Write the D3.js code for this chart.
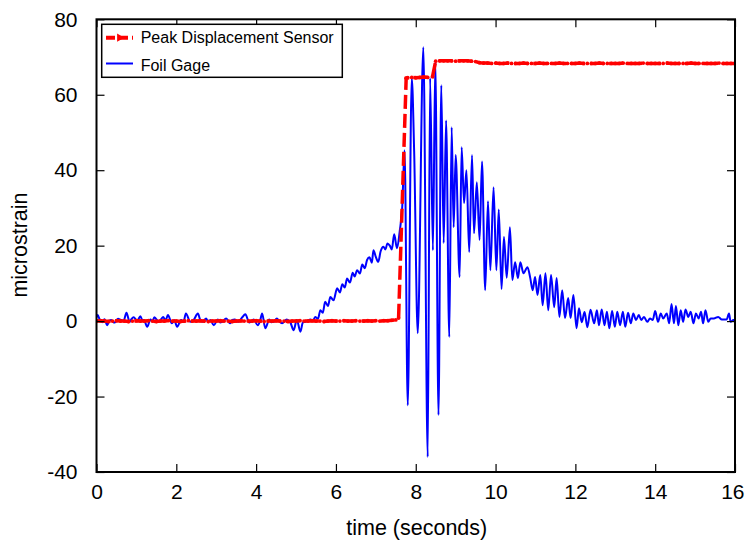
<!DOCTYPE html>
<html>
<head>
<meta charset="utf-8">
<script src="https://cdn.jsdelivr.net/npm/d3@7"></script>
<style>
  html, body { margin: 0; padding: 0; background: #fff; }
  svg { display: block; font-family: "Liberation Sans", Arial, sans-serif; }
</style>
</head>
<body>
<svg id="chart" width="745" height="541"></svg>
<script>
// ---- Data ----
const xTicks = [0, 2, 4, 6, 8, 10, 12, 14, 16];
const yTicks = [-40, -20, 0, 20, 40, 60, 80];
const seriesNames = ["Peak Displacement Sensor", "Foil Gage"];

// Peak Displacement Sensor: sample times (s) and readings (microstrain)
const redTime = [
  0.0,0.1,0.2,0.3,0.4,0.5,0.6,0.7,0.8,0.9,1.0,1.1,1.2,1.3,1.4,1.5,1.6,1.7,1.8,1.9,
  2.0,2.1,2.2,2.3,2.4,2.5,2.6,2.7,2.8,2.9,3.0,3.1,3.2,3.3,3.4,3.5,3.6,3.7,3.8,3.9,
  4.0,4.1,4.2,4.3,4.4,4.5,4.6,4.7,4.8,4.9,5.0,5.1,5.2,5.3,5.4,5.5,5.6,5.7,5.8,5.9,
  6.0,6.1,6.2,6.3,6.4,6.5,6.6,6.7,6.8,6.9,7.0,7.1,7.2,7.3,7.4,7.5,7.57,
  7.76,7.8,7.9,8.0,8.1,8.2,8.3,8.42,
  8.5,8.6,8.7,8.8,8.9,9.0,9.1,9.2,9.3,9.4,9.5,9.6,9.7,9.8,9.9,
  10.0,10.1,10.2,10.3,10.4,10.5,10.6,10.7,10.8,10.9,11.0,11.1,11.2,11.3,11.4,11.5,11.6,11.7,11.8,11.9,
  12.0,12.1,12.2,12.3,12.4,12.5,12.6,12.7,12.8,12.9,13.0,13.1,13.2,13.3,13.4,13.5,13.6,13.7,13.8,13.9,
  14.0,14.1,14.2,14.3,14.4,14.5,14.6,14.7,14.8,14.9,15.0,15.1,15.2,15.3,15.4,15.5,15.6,15.7,15.8,15.9,16.0
];
const redValue = [
  0.0,0.1,0.0,-0.1,0.0,0.1,0.0,0.0,-0.1,0.0,0.1,0.0,0.0,0.1,0.0,-0.1,0.0,0.0,0.1,0.0,
  0.0,-0.1,0.0,0.1,0.0,0.0,0.1,0.0,-0.1,0.0,0.0,0.1,0.0,0.0,-0.1,0.0,0.1,0.0,0.0,0.0,
  0.1,0.0,-0.1,0.0,0.0,0.1,0.0,0.0,-0.1,0.0,0.0,0.1,0.0,0.0,0.1,0.0,0.0,-0.1,0.0,0.1,
  0.0,0.0,0.1,0.0,0.0,0.1,0.0,0.0,0.1,0.0,0.1,0.0,0.1,0.1,0.2,0.3,0.8,
  64.4,64.5,64.6,64.5,64.6,64.7,64.6,64.8,
  68.9,69.0,69.0,69.0,69.0,68.9,69.0,69.0,69.0,68.9,68.8,68.5,68.4,68.4,68.3,
  68.4,68.3,68.3,68.4,68.3,68.3,68.3,68.4,68.3,68.3,68.3,68.4,68.3,68.3,68.3,68.3,68.4,68.3,68.3,68.3,
  68.3,68.4,68.3,68.3,68.3,68.3,68.4,68.3,68.3,68.3,68.3,68.3,68.4,68.3,68.3,68.3,68.3,68.4,68.3,68.3,
  68.3,68.3,68.3,68.4,68.3,68.3,68.3,68.3,68.3,68.4,68.3,68.3,68.3,68.3,68.3,68.3,68.4,68.3,68.3,68.3,68.3
];

// Foil Gage: [time (s), microstrain]
const blueSeries = [
  [0.00,1.0],[0.03,1.6],[0.08,0.4],[0.14,-0.3],[0.20,0.5],[0.27,-1.1],[0.32,0.1],[0.37,0.3],[0.43,-0.4],[0.48,-0.2],
  [0.54,0.6],[0.60,0.4],[0.68,0.1],[0.75,2.2],[0.83,-0.2],[0.88,0.6],[0.93,1.0],[1.02,0.1],[1.10,1.3],[1.15,0.2],
  [1.19,0.3],[1.27,-1.5],[1.35,0.4],[1.40,-0.1],[1.45,1.0],[1.56,-0.2],[1.62,0.5],[1.67,1.1],[1.73,0.2],[1.79,1.6],
  [1.89,-0.6],[1.95,0.2],[2.02,-1.5],[2.12,0.3],[2.18,-0.2],[2.24,2.0],[2.35,-0.2],[2.44,0.4],[2.54,2.0],[2.60,0.3],
  [2.65,-0.2],[2.75,0.7],[2.80,-0.3],[2.85,0.3],[2.94,-1.1],[3.04,0.4],[3.10,-0.4],[3.15,-0.2],[3.25,0.7],[3.35,-0.6],
  [3.40,0.3],[3.46,0.4],[3.56,-0.2],[3.65,1.0],[3.73,1.8],[3.83,-0.4],[3.94,0.4],[4.04,-1.1],[4.10,0.1],[4.15,2.0],
  [4.23,-1.9],[4.33,0.4],[4.38,-0.3],[4.44,-0.2],[4.52,0.7],[4.58,-0.1],[4.65,-0.6],[4.77,0.4],[4.86,-0.4],[4.94,-2.4],
  [5.02,0.3],[5.11,-2.8],[5.17,-0.4],[5.23,-0.2],[5.30,0.2],[5.36,0.4],[5.42,0.0],[5.48,1.1],[5.55,0.6],[5.61,2.9],
  [5.67,2.2],[5.73,5.1],[5.80,4.0],[5.86,6.4],[5.94,5.5],[6.03,8.7],[6.10,7.6],[6.16,9.8],[6.22,8.9],[6.28,11.3],
  [6.35,10.2],[6.42,12.8],[6.47,11.8],[6.53,13.5],[6.60,12.6],[6.66,15.0],[6.72,14.0],[6.78,16.2],[6.84,16.9],[6.90,15.5],
  [6.94,18.8],[7.00,17.0],[7.06,15.7],[7.12,18.5],[7.19,19.7],[7.24,19.0],[7.29,20.6],[7.35,20.0],[7.40,19.0],[7.46,23.0],
  [7.53,19.3],[7.60,24.0],[7.66,30.0],[7.72,45.3],[7.80,-22.3],[7.90,64.4],[7.96,45.0],[8.05,-3.2],[8.19,72.6],[8.30,-36.0],
  [8.36,64.4],[8.43,18.8],[8.49,68.6],[8.57,-24.9],[8.64,62.5],[8.70,20.7],[8.76,53.2],[8.84,-4.2],[8.90,51.4],[8.95,24.9],
  [9.00,44.0],[9.10,11.7],[9.15,46.1],[9.21,31.3],[9.27,40.0],[9.34,18.3],[9.41,44.0],[9.46,23.3],[9.53,36.8],[9.60,21.5],
  [9.66,42.3],[9.74,8.2],[9.81,31.8],[9.87,13.5],[9.95,35.5],[10.02,13.5],[10.08,29.6],[10.15,8.5],[10.21,22.3],[10.28,11.5],
  [10.36,24.9],[10.42,10.9],[10.49,15.6],[10.56,11.4],[10.62,15.6],[10.70,12.7],[10.80,14.3],[10.87,11.4],[10.93,8.2],[10.99,11.7],
  [11.05,6.9],[11.12,12.2],[11.18,4.2],[11.25,12.7],[11.32,2.9],[11.39,12.2],[11.47,3.7],[11.53,11.4],[11.60,1.1],[11.67,8.2],
  [11.74,0.8],[11.82,6.1],[11.88,0.8],[11.95,6.9],[12.03,-1.9],[12.09,3.4],[12.16,-0.3],[12.23,2.4],[12.30,-1.6],[12.38,3.0],
  [12.47,-0.6],[12.54,2.9],[12.59,-1.1],[12.66,3.1],[12.73,-1.1],[12.79,2.5],[12.85,-1.9],[12.92,2.7],[12.99,-1.5],[13.05,2.5],
  [13.12,-1.1],[13.19,2.5],[13.25,-1.5],[13.32,2.2],[13.39,-0.6],[13.45,2.0],[13.52,0.3],[13.59,1.6],[13.65,0.3],[13.72,1.1],
  [13.80,-0.2],[13.87,0.7],[13.94,0.3],[14.00,2.7],[14.07,-0.2],[14.14,2.0],[14.20,0.7],[14.29,2.0],[14.35,-0.6],[14.41,4.5],
  [14.47,-0.6],[14.52,4.0],[14.58,-1.1],[14.64,2.9],[14.70,-0.2],[14.76,3.1],[14.83,1.1],[14.89,2.5],[14.96,-0.6],[15.02,2.0],
  [15.09,0.7],[15.15,2.5],[15.20,-0.6],[15.26,2.9],[15.33,-0.2],[15.39,0.7],[15.47,0.7],[15.58,1.1],[15.67,0.4],[15.79,0.4],
  [15.85,2.0],[15.89,-0.2],[15.96,0.3],[16.00,0.3]
];

// ---- Drawing ----
const svg = d3.select("#chart");
const pLeft = 96.5, pRight = 735, pTop = 19.3, pBottom = 472;
const x = d3.scaleLinear().domain([0, 16]).range([pLeft, pRight]);
const y = d3.scaleLinear().domain([-40, 80]).range([pBottom, pTop]);

const redData = redTime.map((t, i) => [t, redValue[i]]);

svg.append("defs").append("clipPath").attr("id", "clip")
  .append("rect").attr("x", pLeft).attr("y", pTop).attr("width", pRight - pLeft).attr("height", pBottom - pTop);

const lineGen = d3.line().x(d => x(d[0])).y(d => y(d[1]));
const smoothGen = d3.line().x(d => x(d[0])).y(d => y(d[1])).curve(d3.curveMonotoneX);
const lines = svg.append("g").attr("clip-path", "url(#clip)");

// Foil gage (blue)
lines.append("path")
  .datum(blueSeries)
  .attr("fill", "none")
  .attr("stroke", "#0000ff")
  .attr("stroke-width", 2)
  .attr("stroke-linejoin", "round")
  .attr("d", smoothGen);

// Peak displacement sensor (red dashed with markers)
lines.append("path")
  .datum(redData)
  .attr("fill", "none")
  .attr("stroke", "#ff0000")
  .attr("stroke-width", 3.5)
  .attr("stroke-dasharray", "14,5")
  .attr("d", lineGen);
lines.append("g").selectAll("circle")
  .data(redData)
  .join("circle")
  .attr("cx", d => x(d[0]))
  .attr("cy", d => y(d[1]))
  .attr("r", 1.9)
  .attr("fill", "#ff0000");

// Axes (ticks pointing inward)
const fmt = v => String(v);
const axB = svg.append("g").attr("transform", `translate(0,${pBottom})`)
  .call(d3.axisBottom(x).tickValues(xTicks).tickFormat(fmt).tickSize(-8).tickSizeOuter(0).tickPadding(12));
const axL = svg.append("g").attr("transform", `translate(${pLeft},0)`)
  .call(d3.axisLeft(y).tickValues(yTicks).tickFormat(fmt).tickSize(-8).tickSizeOuter(0).tickPadding(19));
const axT = svg.append("g").attr("transform", `translate(0,${pTop})`)
  .call(d3.axisTop(x).tickValues(xTicks).tickFormat("").tickSize(-8).tickSizeOuter(0));
const axR = svg.append("g").attr("transform", `translate(${pRight},0)`)
  .call(d3.axisRight(y).tickValues(yTicks).tickFormat("").tickSize(-8).tickSizeOuter(0));

[axB, axL, axT, axR].forEach(a => {
  a.select(".domain").remove();
  a.selectAll(".tick line").attr("stroke", "#000").attr("stroke-width", 1.2);
  a.selectAll(".tick text").attr("fill", "#000").style("font-size", "21px")
    .style("font-family", '"Liberation Sans", Arial, sans-serif');
});
// keep the last x label inside the picture
axB.selectAll(".tick text").filter(d => d === 16).attr("text-anchor", "end").attr("dx", "9");

// Frame
svg.append("rect")
  .attr("x", pLeft).attr("y", pTop)
  .attr("width", pRight - pLeft).attr("height", pBottom - pTop)
  .attr("fill", "none").attr("stroke", "#000").attr("stroke-width", 2);

// Axis titles
svg.append("text")
  .attr("x", (pLeft + pRight) / 2 + 1).attr("y", 535)
  .attr("text-anchor", "middle")
  .style("font-size", "21.5px")
  .text("time (seconds)");
svg.append("text")
  .attr("transform", "translate(27,245) rotate(-90)")
  .attr("text-anchor", "middle")
  .style("font-size", "21.5px")
  .text("microstrain");

// Legend
const lg = svg.append("g");
lg.append("rect")
  .attr("x", 101.7).attr("y", 24.3).attr("width", 240.6).attr("height", 53)
  .attr("fill", "#fff").attr("stroke", "#000").attr("stroke-width", 1.5);
lg.append("line")
  .attr("x1", 106).attr("x2", 133).attr("y1", 37.7).attr("y2", 37.7)
  .attr("stroke", "#ff0000").attr("stroke-width", 4).attr("stroke-dasharray", "9,4");
lg.append("path")
  .attr("d", d3.symbol().type(d3.symbolTriangle).size(30)())
  .attr("transform", "translate(119.5,37.7) rotate(90)")
  .attr("fill", "#ff0000");
lg.append("line")
  .attr("x1", 106).attr("x2", 133).attr("y1", 63.5).attr("y2", 63.5)
  .attr("stroke", "#0000ff").attr("stroke-width", 2);
lg.append("text").attr("x", 140.7).attr("y", 43.3).style("font-size", "16px").text(seriesNames[0]);
lg.append("text").attr("x", 140.7).attr("y", 70.5).style("font-size", "16px").text(seriesNames[1]);
</script>
</body>
</html>
